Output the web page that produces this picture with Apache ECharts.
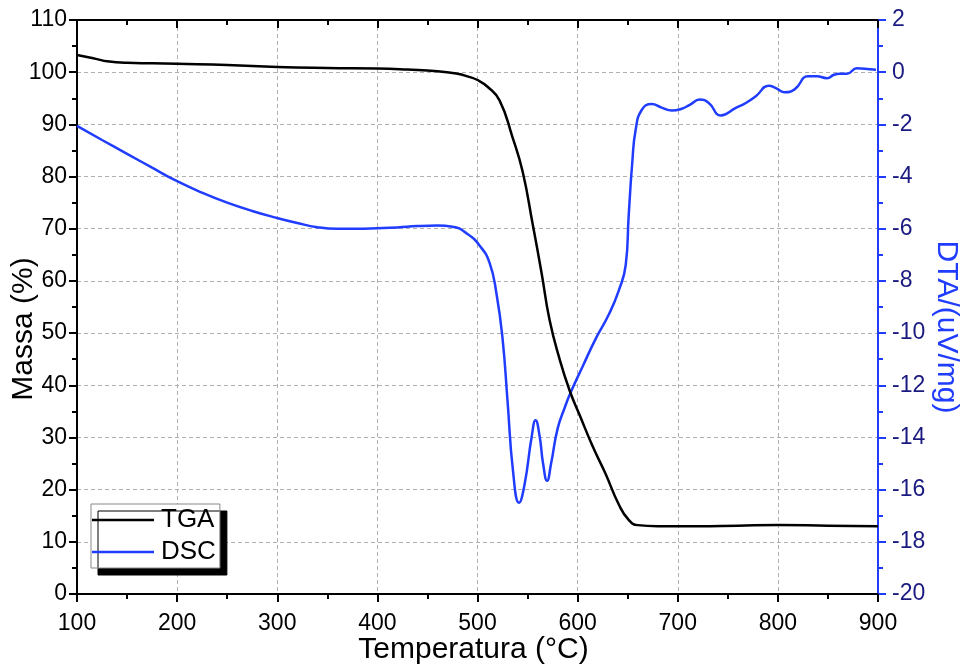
<!DOCTYPE html>
<html>
<head>
<meta charset="utf-8">
<script src="https://cdn.jsdelivr.net/npm/echarts@6/dist/echarts.min.js"></script>
<style>html,body{margin:0;padding:0;background:#fff}#c{width:961px;height:664px}</style>
</head>
<body>
<div id="c"></div>
<script>
const tgaX = [100,110,120,130,150,175,200,250,300,350,400,430,460,480,490,500,510,522,535,545,555,564,572,582,592,602,615,628,641,651,660,680,720,760,800,850,900];
const tgaY = [103.3,102.9,102.5,102.1,101.8,101.7,101.6,101.4,101.0,100.8,100.7,100.5,100.2,99.7,99.2,98.5,97.2,94.6,87.5,81,71,61.5,52.5,45,39,34.3,28.3,23,17.2,14.2,13.2,13.0,13.0,13.1,13.2,13.1,13.0];
const dscX = [100,125,150,175,200,225,250,275,300,320,340,360,380,400,420,440,460,475,490,502,512,519,525,530,535.5,541.5,547,554,558,562,565.5,569.5,573.5,580,587,593,605,618,631,641,648,651,654.5,658,664,674,684,694,704,712,722,731,743,758,768,778,791,798,807,817,830,839,849,856,862,869,879,892,898];
const dscY = [-2.06,-2.6,-3.13,-3.66,-4.18,-4.62,-5.0,-5.32,-5.59,-5.78,-5.94,-6.0,-6.0,-5.98,-5.95,-5.9,-5.88,-5.92,-6.2,-6.64,-7.3,-8.5,-10.2,-12.6,-15.3,-16.5,-15.8,-14.0,-13.34,-13.94,-15.0,-15.66,-15.0,-13.66,-12.87,-12.28,-11.28,-10.22,-9.3,-8.38,-7.4,-5.5,-3.5,-2.2,-1.45,-1.22,-1.36,-1.47,-1.4,-1.25,-1.05,-1.18,-1.66,-1.37,-1.18,-0.92,-0.52,-0.61,-0.77,-0.65,-0.16,-0.16,-0.23,-0.1,-0.06,-0.06,0.15,0.11,0.09];
const seriesNames = ['TGA','DSC'];
const xName = 'Temperatura (°C)';
const yLeftName = 'Massa (%)';
const yRightName = 'DTA/(uV/mg)';

const FONT = '"Liberation Sans", Arial, sans-serif';
const BLUE = '#1f3cff';
const LBL = 23;
const NAME = 30;
const chart = echarts.init(document.getElementById('c'), null, {renderer:'canvas'});
chart.setOption({
  animation:false,
  backgroundColor:'#fff',
  grid:{left:77,right:83,top:20,bottom:70,containLabel:false,outerBoundsMode:'none'},
  legend:{
    data:seriesNames, orient:'vertical', left:91, top:504,
    icon:'rect',
    backgroundColor:'#fff', borderColor:'#888', borderWidth:1,
    shadowColor:'#000', shadowOffsetX:7, shadowOffsetY:7, shadowBlur:0,
    padding:[3,4,3,1], itemGap:6, itemWidth:62, itemHeight:2.5,
    textStyle:{fontFamily:FONT,fontSize:26,color:'#000',padding:[0,0,0,2]}
  },
  xAxis:[{
    type:'value', min:100, max:900, interval:100, position:'bottom',
    name:xName, nameLocation:'middle', nameGap:41, nameMoveOverlap:false,
    nameTextStyle:{fontFamily:FONT,fontSize:NAME,color:'#000',padding:[0,8,0,0]},
    axisLine:{onZero:false,lineStyle:{color:'#000',width:2}},
    axisTick:{show:true,length:8,lineStyle:{color:'#000',width:2}},
    minorTick:{show:true,splitNumber:2,length:5,lineStyle:{color:'#000',width:2}},
    axisLabel:{fontFamily:FONT,fontSize:LBL,color:'#000',margin:18},
    splitLine:{show:true,lineStyle:{color:'#b0b0b0',type:[4,3],width:1}}
  },{
    type:'value', min:100, max:900, interval:100, position:'top',
    axisLine:{onZero:false,lineStyle:{color:'#000',width:2}},
    axisTick:{show:true,inside:true,length:8,lineStyle:{color:'#000',width:2}},
    minorTick:{show:true,splitNumber:2,length:5,lineStyle:{color:'#000',width:2}},
    axisLabel:{show:false}, splitLine:{show:false}
  }],
  yAxis:[{
    type:'value', min:0, max:110, interval:10, position:'left',
    name:yLeftName, nameLocation:'middle', nameGap:38, nameMoveOverlap:false,
    nameTextStyle:{fontFamily:FONT,fontSize:NAME,color:'#000',padding:[0,44,0,0]},
    axisLine:{show:true,onZero:false,lineStyle:{color:'#000',width:2}},
    axisTick:{show:true,length:8,lineStyle:{color:'#000',width:2}},
    minorTick:{show:true,splitNumber:2,length:5,lineStyle:{color:'#000',width:2}},
    axisLabel:{fontFamily:FONT,fontSize:LBL,color:'#000',margin:10},
    splitLine:{show:true,lineStyle:{color:'#b0b0b0',type:[4,3],width:1}}
  },{
    type:'value', min:-20, max:2, interval:2, position:'right',
    name:yRightName, nameLocation:'middle', nameGap:53, nameRotate:-90, nameMoveOverlap:false,
    nameTextStyle:{fontFamily:FONT,fontSize:NAME,color:BLUE,padding:[0,0,0,40]},
    axisLine:{show:true,onZero:false,lineStyle:{color:BLUE,width:2}},
    axisTick:{show:true,length:8,lineStyle:{color:BLUE,width:2}},
    minorTick:{show:true,splitNumber:2,length:5,lineStyle:{color:BLUE,width:2}},
    axisLabel:{fontFamily:FONT,fontSize:LBL,color:'#1a1a80',margin:14},
    splitLine:{show:false}
  }],
  series:[{
    name:seriesNames[0], type:'line', xAxisIndex:0, yAxisIndex:0,
    data:tgaX.map((x,i)=>[x,tgaY[i]]), symbol:'none', smooth:0.5,
    lineStyle:{color:'#000',width:2.5}, itemStyle:{color:'#000'}, z:3
  },{
    name:seriesNames[1], type:'line', xAxisIndex:0, yAxisIndex:1,
    data:dscX.map((x,i)=>[x,dscY[i]]), symbol:'none', smooth:0.5,
    lineStyle:{color:BLUE,width:2.5}, itemStyle:{color:BLUE}, z:2
  }]
});
</script>
</body>
</html>
